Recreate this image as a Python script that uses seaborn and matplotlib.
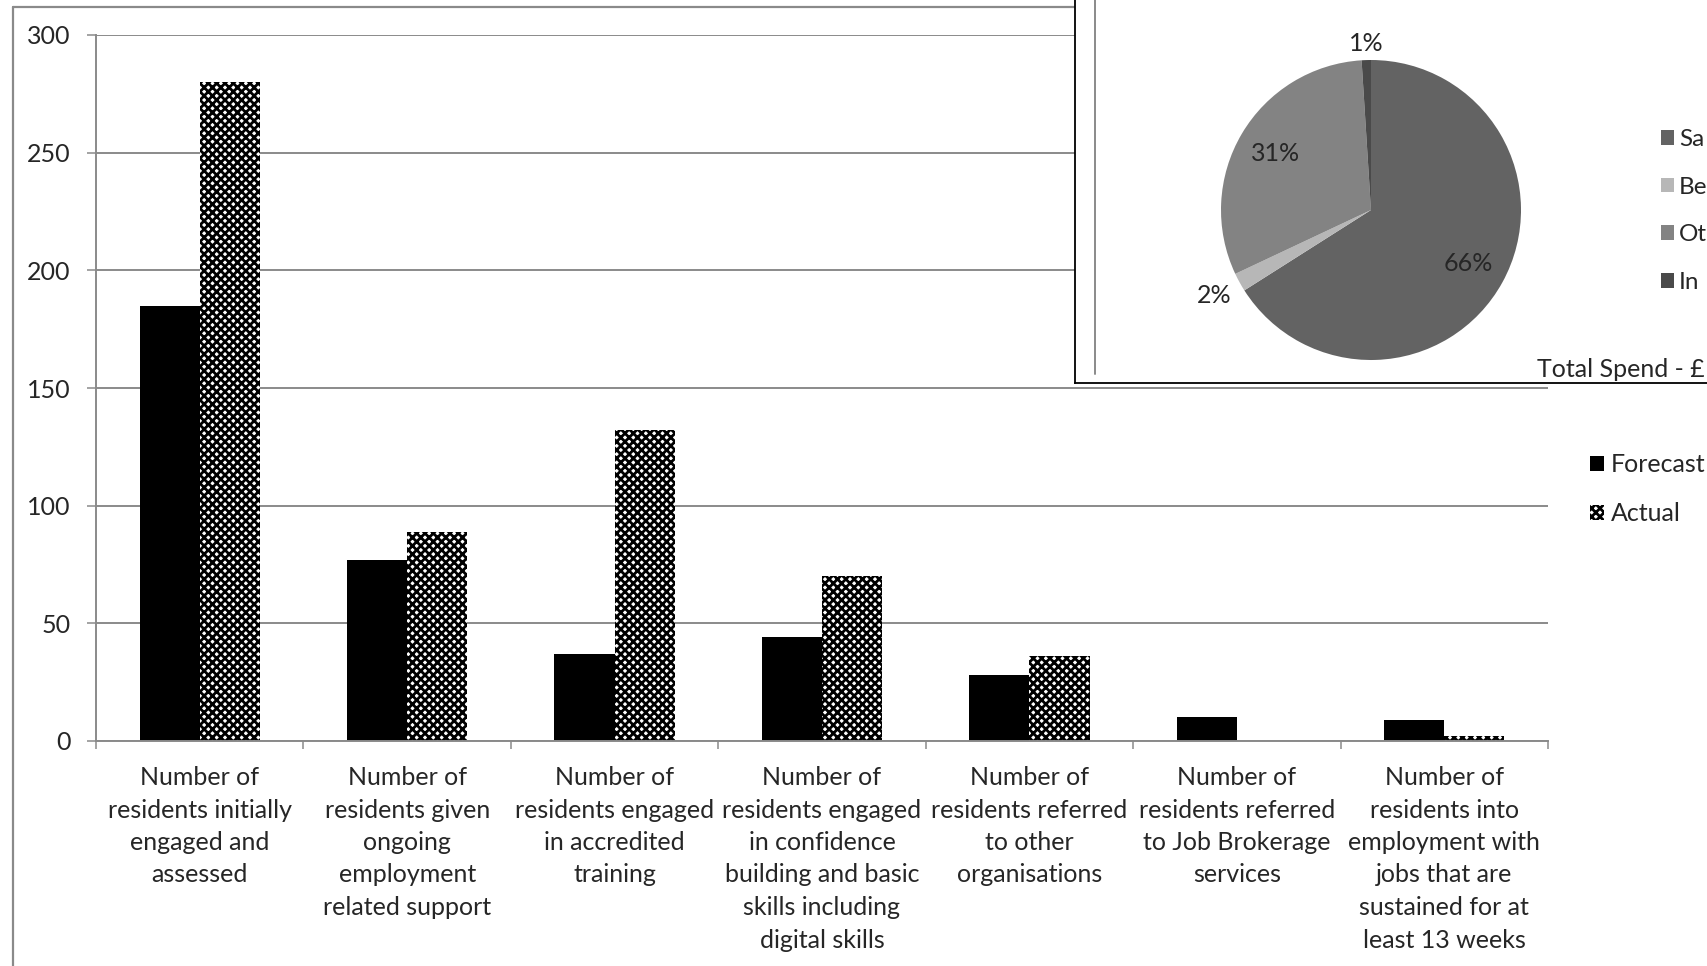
import numpy as np
import pandas as pd
import seaborn as sns
import matplotlib.pyplot as plt
from matplotlib.patches import Patch
from matplotlib.lines import Line2D

# bar chart data
categories = [
    "Number of\nresidents initially\nengaged and\nassessed",
    "Number of\nresidents given\nongoing\nemployment\nrelated support",
    "Number of\nresidents engaged\nin accredited\ntraining",
    "Number of\nresidents engaged\nin confidence\nbuilding and basic\nskills including\ndigital skills",
    "Number of\nresidents referred\nto other\norganisations",
    "Number of\nresidents referred\nto Job Brokerage\nservices",
    "Number of\nresidents into\nemployment with\njobs that are\nsustained for at\nleast 13 weeks",
]
forecast = [185, 77, 37, 44, 28, 10, 9]
actual = [280, 89, 132, 70, 36, 0, 2]
series = ["Forecast", "Actual"]
yticks = [0, 50, 100, 150, 200, 250, 300]

# pie inset data (legend text is cut off at the right edge)
spend_labels = ["Sa", "Be", "Ot", "In"]
spend_share = [66, 2, 31, 1]
spend_colors = ["#636363", "#b7b7b7", "#838383", "#4a4a4a"]

sns.set_style("white")
plt.rcParams["font.family"] = ["Lato", "DejaVu Sans"]
plt.rcParams["hatch.linewidth"] = 2.0

df = pd.DataFrame({
    "category": categories * 2,
    "value": forecast + actual,
    "series": [series[0]] * len(categories) + [series[1]] * len(categories),
})

W, H = 1708, 966
GRAY = "#8a8a8a"
FS = 18


def box(l, t, r, b):
    return [l / W, 1 - b / H, (r - l) / W, (b - t) / H]


fig = plt.figure(figsize=(W / 100, H / 100), dpi=100)

# outer frame of the report page
fig.add_artist(Line2D([13 / W, 13 / W], [0, 1 - 7 / H], color=GRAY, lw=1.6,
                      transform=fig.transFigure, zorder=0))
fig.add_artist(Line2D([13 / W, 1075 / W], [1 - 7 / H, 1 - 7 / H], color=GRAY, lw=1.6,
                      transform=fig.transFigure, zorder=0))

# main bar chart
ax = fig.add_axes(box(96, 35, 1548, 741))
sns.barplot(data=df, x="category", y="value", hue="series", palette=["black", "white"],
            width=0.58, saturation=1, errorbar=None, legend=False, ax=ax)
for bar in ax.containers[0]:
    bar.set_linewidth(0)
for bar in ax.containers[1]:
    bar.set_hatch("xxxx")
    bar.set_edgecolor("black")
    bar.set_linewidth(0)

ax.set_ylim(0, 300)
ax.set_yticks(yticks)
ax.set_xlim(-0.5, 6.5)
ax.set_xlabel("")
ax.set_ylabel("")
ax.grid(axis="y", color=GRAY, lw=1.4)
ax.set_axisbelow(True)
for s in ["top", "right"]:
    ax.spines[s].set_visible(False)
for s in ["left", "bottom"]:
    ax.spines[s].set_color(GRAY)
    ax.spines[s].set_linewidth(1.4)
ax.tick_params(axis="y", left=True, length=6.5, width=1.1, color=GRAY, labelsize=FS, pad=12)
ax.set_xticks(range(len(categories)))
ax.set_xticklabels(categories, fontsize=FS, linespacing=1.5)
ax.set_xticks(np.arange(-0.5, len(categories), 1), minor=True)
ax.tick_params(axis="x", which="major", bottom=False, length=0, pad=18)
ax.tick_params(axis="x", which="minor", bottom=True, length=6, width=1.1, color=GRAY)

handles = [Patch(facecolor="black", lw=0, label="Forecast"),
           Patch(facecolor="white", edgecolor="black", hatch="xxxx", lw=0, label="Actual")]
fig.legend(handles=handles, loc="center left", bbox_to_anchor=(1590 / W, 1 - 489 / H),
           frameon=False, fontsize=FS, handlelength=0.55, handleheight=0.55,
           handletextpad=0.3, labelspacing=1.05, borderpad=0, borderaxespad=0)

# pie chart inset overlapping the bar chart
ax_in = fig.add_axes(box(1075, -60, 1800, 383), zorder=3)
ax_in.set_xlim(0, 1)
ax_in.set_ylim(0, 1)
ax_in.set_xticks([])
ax_in.set_yticks([])
ax_in.set_facecolor("white")
for s in ax_in.spines.values():
    s.set_color("black")
    s.set_linewidth(1.3)
ax_in.axvline(20 / 725, ymin=9 / 443, ymax=1, color=GRAY, lw=1.4)

ax_pie = fig.add_axes(box(1221, 60, 1521, 360), zorder=4)
wedges, _ = ax_pie.pie(spend_share, colors=spend_colors, startangle=90, counterclock=False,
                       wedgeprops=dict(linewidth=0))
ax_pie.set_aspect("auto")
ax_pie.set_xlim(-1, 1)
ax_pie.set_ylim(-1, 1)
ax_pie.axis("off")
label_dist = [0.74, 1.19, 0.74, 1.11]
for w, v, d in zip(wedges, spend_share, label_dist):
    ang = np.deg2rad((w.theta1 + w.theta2) / 2)
    ax_pie.text(d * np.cos(ang), d * np.sin(ang), f"{v}%", ha="center", va="center", fontsize=FS)

ax_pie.legend(wedges, spend_labels, loc="center left", bbox_to_anchor=(1661 / W, 1 - 211 / H),
              bbox_transform=fig.transFigure, frameon=False, fontsize=FS - 0.5, handlelength=0.55,
              handleheight=0.55, handletextpad=0.2, labelspacing=1.1, borderpad=0,
              borderaxespad=0)

fig.text(1537 / W, 1 - 377 / H, "Total Spend - £", fontsize=FS, va="baseline", zorder=6)

plt.savefig("out.png", dpi=100)
